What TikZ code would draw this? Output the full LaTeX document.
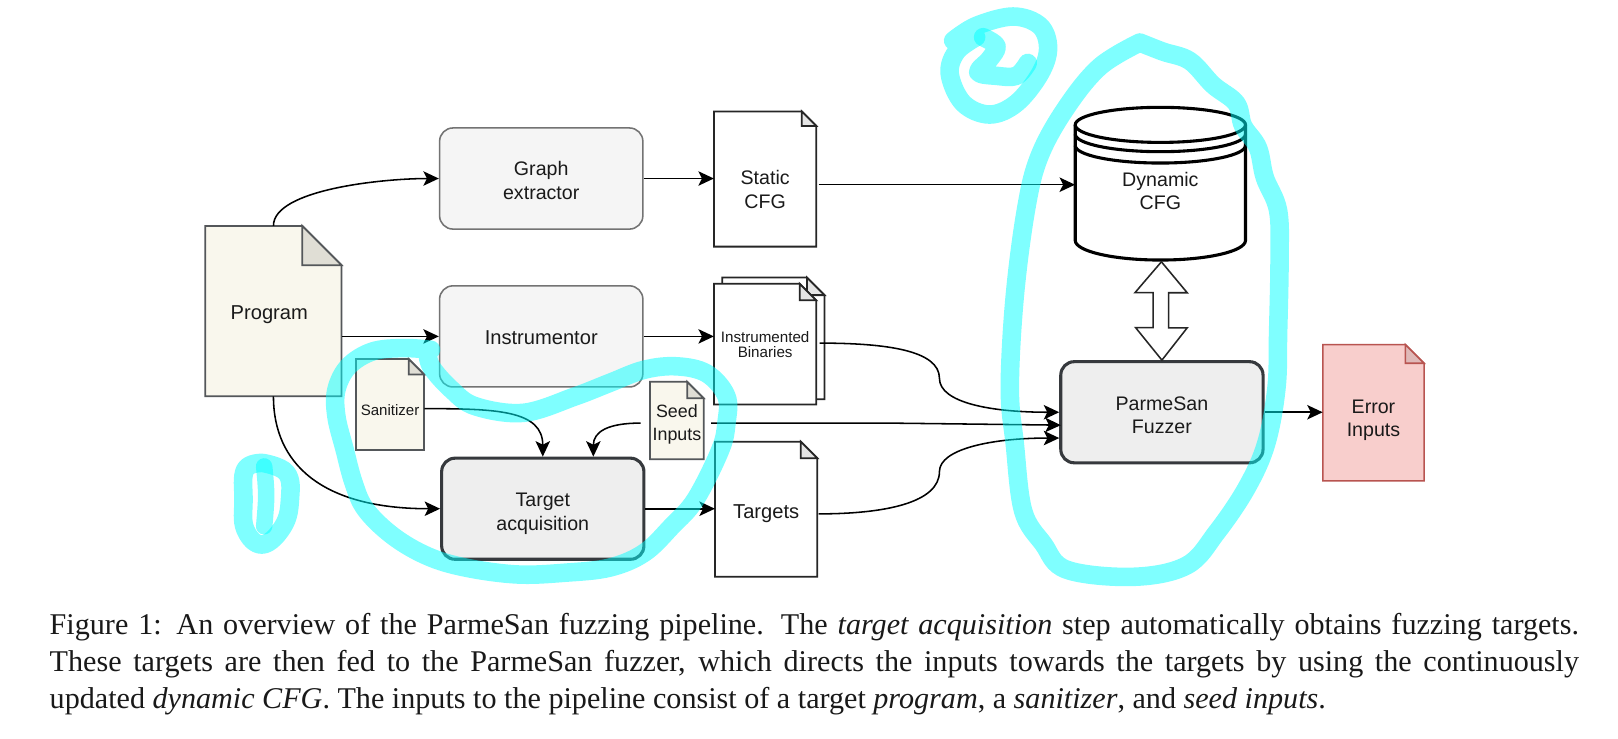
\documentclass[tikz,border=0pt]{standalone}
\usepackage{fontspec}
\setmainfont{Liberation Serif}
\newfontfamily\sansf{Liberation Sans}
\usetikzlibrary{arrows.meta,calc}
\definecolor{cream}{HTML}{F9F7ED}
\definecolor{edgedark}{HTML}{36393D}
\definecolor{lightbox}{HTML}{F5F5F5}
\definecolor{midbox}{HTML}{EEEEEE}
\definecolor{errfill}{HTML}{F8CECC}
\definecolor{erredge}{HTML}{B85450}
\definecolor{txt}{HTML}{1A1A1A}
\definecolor{marker}{HTML}{00FFFF}
\tikzset{
  conn/.style={draw=black,line width=1.5pt,-{Stealth[length=15pt,width=14pt,inset=3.5pt]}},
  softbox/.style={draw=black!55,fill=lightbox,line width=1.5pt,rounded corners=13pt,inner sep=0pt,text=txt},
  hardbox/.style={draw=edgedark,fill=midbox,line width=3pt,rounded corners=13pt,inner sep=0pt,text=txt},
  creamdoc/.style={draw=edgedark!85,fill=cream,line width=1.7pt},
  whitedoc/.style={draw=black!85,fill=white,line width=1.7pt},
  errdoc/.style={draw=erredge,fill=errfill,line width=1.5pt},
  hl/.style={draw=marker,opacity=.5,line width=18pt,line cap=round,line join=round}
}
\newcommand\placed[5]{{\sansf\fontsize{#3}{#4}\selectfont\raisebox{\dimexpr #2pt-0.25em\relax}[0pt][0pt]{\makebox[0pt]{\hspace*{#1pt}\begin{tabular}{@{}c@{}}#5\end{tabular}}}}}
\newcommand\docnode[9]{%
  \draw[#7] (#2,#3) -- (#4-#6,#3) -- (#4,#3+#6) -- (#4,#5) -- (#2,#5) -- cycle;
  \draw[#7,fill=#8] (#4-#6,#3) -- (#4-#6,#3+#6) -- (#4,#3+#6) -- cycle;
  \pgfmathsetmacro\dw{#4-#2}\pgfmathsetmacro\dh{#5-#3}%
  \node[minimum width=\dw pt,minimum height=\dh pt,inner sep=0pt,text=txt] (#1) at ({(#2+#4)/2},{(#3+#5)/2}) {#9};
}
\begin{document}
\begin{tikzpicture}[x=1pt,y=-1pt]
\useasboundingbox (0,0) rectangle (1568,715.2);
\fill[white] (0,0) rectangle (1568,715.2);

% rounded boxes
\node[softbox,minimum width=197pt,minimum height=98pt] (graph) at (524.5,173) {\placed{0}{-4}{19}{23}{Graph\\extractor}};
\node[softbox,minimum width=197pt,minimum height=98pt] (inst) at (524.5,326) {\placed{0}{-4}{19.5}{23}{Instrumentor}};
\node[hardbox,minimum width=196pt,minimum height=98pt] (target) at (526,493) {\placed{0}{-4.5}{19}{23}{Target\\acquisition}};
\node[hardbox,minimum width=196pt,minimum height=98pt] (fuzz) at (1126,399.5) {\placed{0}{-4.5}{19}{23}{ParmeSan\\Fuzzer}};

% documents
\docnode{prog}{199}{219}{331}{384}{38}{creamdoc}{cream!90!black}{\placed{-8}{-4}{19.5}{23}{Program}}
\docnode{san}{345}{348}{411}{436}{15}{creamdoc}{cream!90!black}{\placed{0}{-7}{14.6}{17}{Sanitizer}}
\docnode{seed}{630}{370}{682}{445}{16}{creamdoc}{cream!90!black}{\placed{0}{-4}{17.3}{22}{Seed\\Inputs}}
\docnode{scfg}{692}{108}{791}{239}{14}{whitedoc}{white!90!black}{\placed{0}{-12}{19}{23}{Static\\CFG}}
\draw[whitedoc] (700,269) -- (782,269) -- (799,286) -- (799,387) -- (700,387) -- cycle;
\draw[whitedoc,fill=white!90!black] (782,269) -- (782,286) -- (799,286) -- cycle;
\docnode{bin}{692}{275}{791}{392}{16}{whitedoc}{white!90!black}{\placed{0}{-2.5}{14.7}{15.2}{Instrumented\\Binaries}}
\docnode{tgt}{693}{428}{792}{559}{16}{whitedoc}{white!90!black}{\placed{0}{-5}{19.5}{23}{Targets}}
\docnode{err}{1282}{334}{1380}{466}{18}{errdoc}{errfill!90!black}{\placed{0}{-7}{19}{22.5}{Error\\Inputs}}

% dynamic CFG cylinder
\begin{scope}[line width=3pt,draw=black]
  \draw[fill=white] (1042,121) -- (1042,233) arc[start angle=180,end angle=360,x radius=82.5,y radius=-19] -- (1207,121) arc[start angle=0,end angle=180,x radius=82.5,y radius=-17] -- cycle;
  \draw (1042,121) arc[start angle=180,end angle=360,x radius=82.5,y radius=-17];
  \draw (1042,130) arc[start angle=180,end angle=360,x radius=82.5,y radius=-17];
  \draw (1042,141) arc[start angle=180,end angle=360,x radius=82.5,y radius=-17];
\end{scope}
\node[minimum width=165pt,minimum height=148pt,inner sep=0pt,text=txt] (dcfg) at (1124.5,177.5) {\placed{0}{-9.5}{19}{22}{Dynamic\\CFG}};

% double arrow
\draw[line width=1.5pt,draw=black!85,fill=white,line join=miter]
  ($(dcfg.south)+(1,2)$) -- ++(25,30) -- ++(-18,0) -- ++(0,34) -- ++(18,0) -- (fuzz.north) -- ++(-25.5,-31.5) -- ++(17,0) -- ++(0,-34) -- ++(-17.5,0) -- cycle;

% connectors
\draw[conn] (prog.north) .. controls +(0,-35) and +(-55,0) .. (graph.west);
\draw[conn] (prog.south) .. controls +(0,65) and +(-115,0) .. (target.west);
\draw[conn] (prog.east |- inst.west) -- (inst.west);
\draw[conn] (graph.east) -- (scfg.west |- graph.east);
\draw[conn] (inst.east) -- (bin.west |- inst.east);
\draw[conn] (target.east) -- (tgt.west |- target.east);
\draw[conn] ([xshift=2pt,yshift=-5.5pt]scfg.east) -- ([yshift=-1.5pt]dcfg.west);
\draw[conn] ([yshift=-4pt]san.east) .. controls +(70,0) and +(0,-45) .. (target.north);
\draw[conn] ([xshift=-9pt,yshift=-2.5pt]seed.west) .. controls +(-32,0) and +(0,-24) .. ([xshift=49pt]target.north);
\coordinate (binbend) at (910.4,366.6);
\coordinate (tgtbend) at (910.4,457);
\coordinate (seedbend) at (860,410);
\coordinate (seedend) at (1028,412);
\draw[conn] ([xshift=3pt,yshift=1pt]bin.east) .. controls +(65,0) and +(0,-27) .. (binbend) .. controls +(0,24) and +(-65,0) .. (fuzz.west);
\draw[conn] ([xshift=7pt,yshift=-2.5pt]seed.east) -- (seedbend) -- (seedend);
\draw[conn] ([xshift=1pt,yshift=-4.5pt]tgt.east) .. controls +(65,0) and +(0,30) .. (tgtbend) .. controls +(0,-22) and +(-65,0) .. ([yshift=-25pt]fuzz.west);
\draw[conn] (fuzz.east) -- (err.west |- fuzz.east);

% highlighter
\draw[hl] plot[smooth,tension=.6] coordinates {(417.7,339) (391,337.3) (361,340.6) (337.7,355) (326,377.7) (326,403.5) (334,435.7) (342.7,468) (354.4,493.8) (381,519.6) (414.4,539) (451,550) (501,556.7) (547.7,555) (591,550) (624.4,535.7) (651,510) (674,484) (698,436) (704,410) (704,384) (685,362) (656,355) (624.4,358.3) (591,371) (557.7,384) (507.7,400) (461,393.8) (437.7,377.7) (417.7,355) (414.4,339)};
\draw[hl] plot[smooth,tension=.7] coordinates {(254.4,448.6) (277.7,458.3) (281,484) (274.4,510) (254.4,527.7) (237.7,513) (236,484) (237.7,455) (254.4,448.6)};
\draw[hl,line width=16pt] plot[smooth,tension=.6] coordinates {(256,452) (258,480) (256,510)};
\draw[hl] plot[smooth,tension=.6] coordinates {(923.7,39.4) (946.3,25) (981.8,16) (1007.7,25) (1015.7,46.6) (1007.7,71.7) (985,100) (959,111) (933.4,100) (920.4,71.7) (927,50) (946,36)};
\draw[hl] plot[smooth,tension=.6] coordinates {(952.7,36) (965.7,44.8) (959,57.3) (948,70) (965.7,73.5) (985,73.5) (996,61)};
\draw[hl] plot[smooth,tension=.6] coordinates {(1104.6,41.2) (1127,50) (1153,59) (1175.6,82.4) (1198,100) (1204.7,122) (1219,143) (1225.7,172) (1238.6,204) (1240,251) (1238.6,322.6) (1237,376) (1227,430) (1208,473) (1179,516) (1150,548) (1098,559) (1033.5,552) (1011,527) (991.5,495) (983.4,430) (978.6,376) (983.4,287) (994.7,200.7) (1007.7,150.5) (1033.5,104) (1066,64.5) (1104.6,41.2)};

% caption
\node[anchor=north west,inner sep=0pt,text width=1482pt,align=justify,font=\fontsize{29.2}{36}\selectfont,text=black!90] (caption) at (48,594) {Figure 1: An overview of the ParmeSan fuzzing pipeline. The \textit{target acquisition} step automatically obtains fuzzing targets.\linebreak These targets are then fed to the ParmeSan fuzzer, which directs the inputs towards the targets by using the continuously\linebreak updated \textit{dynamic CFG}. The inputs to the pipeline consist of a target \textit{program}, a \textit{sanitizer}, and \textit{seed inputs}.};
\end{tikzpicture}
\end{document}
